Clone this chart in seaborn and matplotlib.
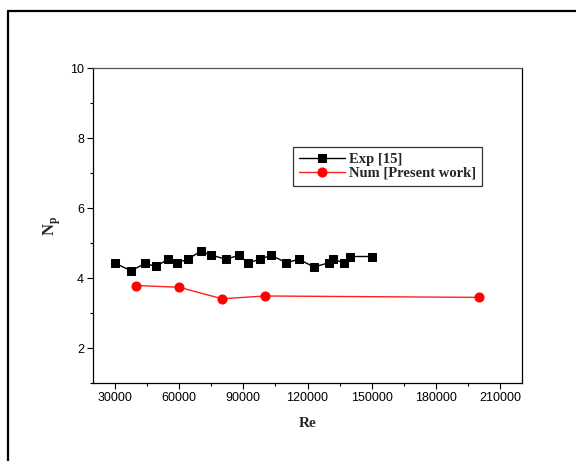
import matplotlib
matplotlib.use("Agg")
import matplotlib.pyplot as plt
from matplotlib.lines import Line2D
from matplotlib.ticker import MultipleLocator
import seaborn as sns
import pandas as pd

# Data
exp_re = [30000, 37500, 44000, 49000, 55000, 59000, 64000, 70000, 75000, 82000,
          88000, 92000, 98000, 103000, 110000, 116000, 123000, 130000, 132000,
          137000, 140000, 150000]
exp_np = [4.43, 4.21, 4.42, 4.34, 4.54, 4.44, 4.54, 4.77, 4.66, 4.54,
          4.66, 4.44, 4.54, 4.66, 4.44, 4.54, 4.32, 4.44, 4.54, 4.44, 4.62, 4.62]
num_re = [40000, 60000, 80000, 100000, 200000]
num_np = [3.79, 3.74, 3.41, 3.49, 3.45]
series_labels = ["Exp [15]", "Num [Present work]"]
x_ticks = [30000, 60000, 90000, 120000, 150000, 180000, 210000]
y_ticks = [2, 4, 6, 8, 10]

sns.set_theme(style="ticks")
plt.rcParams["font.family"] = ["Liberation Sans", "DejaVu Sans"]
plt.rcParams["mathtext.fontset"] = "custom"
plt.rcParams["mathtext.rm"] = "Liberation Serif"
plt.rcParams["mathtext.bf"] = "Liberation Serif:bold"

fig = plt.figure(figsize=(5.76, 4.61), dpi=100)
ax = fig.add_axes([93/576, 1-383/461, (522-93)/576, (383-68.5)/461])

df_exp = pd.DataFrame({"Re": exp_re, "Np": exp_np})
df_num = pd.DataFrame({"Re": num_re, "Np": num_np})

sns.lineplot(data=df_exp, x="Re", y="Np", ax=ax, color="black", marker="s",
             markersize=6, markeredgecolor="black", linewidth=1,
             label=series_labels[0])
sns.lineplot(data=df_num, x="Re", y="Np", ax=ax, color="#ff2020", marker="o",
             markersize=6.5, markeredgecolor="#ff0000", markerfacecolor="#ff0000",
             linewidth=1, label=series_labels[1])

ax.set_xlim(19700, 220300)
ax.set_ylim(1, 10)
ax.set_xticks(x_ticks)
ax.set_xticklabels([str(v) for v in x_ticks])
ax.set_yticks(y_ticks)
ax.set_yticklabels([str(v) for v in y_ticks])
ax.xaxis.set_minor_locator(MultipleLocator(15000))
ax.yaxis.set_minor_locator(MultipleLocator(1))
ax.tick_params(axis="both", which="major", direction="out", length=4.5,
               width=0.8, labelsize=9, colors="black", pad=2)
ax.tick_params(axis="both", which="minor", direction="out", length=2.5,
               width=0.8, colors="black")
for s in ax.spines.values():
    s.set_visible(True)
    s.set_color("black")
    s.set_linewidth(0.9)
ax.spines["top"].set_color("#555555")

ax.set_xlabel("Re", fontsize=11, fontweight="bold", family="Liberation Serif",
              labelpad=9)
ax.set_ylabel(r"$\mathbf{N}_\mathbf{p}$", fontsize=12, labelpad=5)

leg = ax.legend(loc="upper left", bbox_to_anchor=(0.4655, 0.751),
                prop={"family": "Liberation Serif", "weight": "bold", "size": 10.5},
                frameon=True, fancybox=False, framealpha=1, edgecolor="#333333",
                borderpad=0.4, handlelength=3.2, handletextpad=0.25,
                labelspacing=0.05, borderaxespad=0)
leg.get_frame().set_linewidth(0.9)

# outer frame
fig.add_artist(Line2D([8/576, 1.0], [1-11/461, 1-11/461], transform=fig.transFigure,
                      color="black", linewidth=1.6))
fig.add_artist(Line2D([8/576, 8/576], [0.0, 1-11/461], transform=fig.transFigure,
                      color="black", linewidth=1.6))

fig.savefig("out.png", dpi=100)
